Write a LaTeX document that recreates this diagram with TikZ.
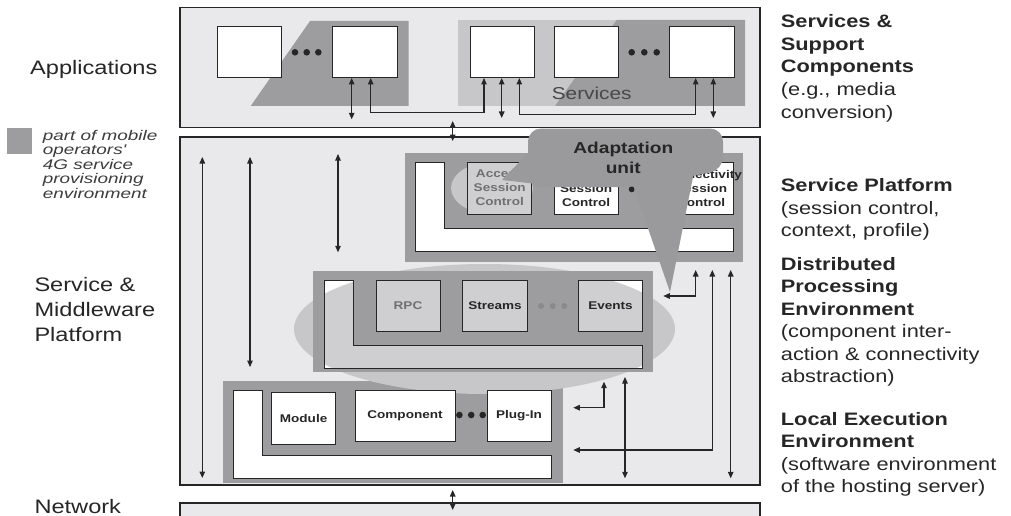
\documentclass[tikz,border=0pt]{standalone}
\usepackage{fontspec}
\setmainfont[FakeStretch=1.21]{Liberation Sans}
\newfontfamily\keyfont[FakeStretch=1.35]{Liberation Sans}
\usetikzlibrary{arrows.meta}

\definecolor{layer}{HTML}{E9E9EB}
\definecolor{panel}{HTML}{9D9D9F}
\definecolor{soft}{HTML}{C7C7C9}
\definecolor{haze}{HTML}{CFCFD1}
\definecolor{ink}{HTML}{262626}
\definecolor{dim}{HTML}{707072}
\definecolor{bubblegray}{HTML}{9A9A9C}
\definecolor{dotgray}{HTML}{8A8A8C}

\tikzset{
  layerbox/.style={draw=ink, line width=1.1pt, fill=layer, anchor=north west, inner sep=0pt, outer sep=0pt},
  slab/.style={fill=panel, anchor=north west, inner sep=0pt, outer sep=0pt},
  comp/.style={draw=ink, line width=1pt, fill=white, anchor=north west, inner sep=0pt, outer sep=0pt,
    align=center, text=ink, font=\fontsize{11.2}{14}\selectfont\bfseries},
  link/.style={draw=ink, line width=1.1pt,
    {Triangle[length=6.5pt,width=5.5pt]}-{Triangle[length=6.5pt,width=5.5pt]}},
  lbl/.style={anchor=base west, inner sep=0pt, text=ink},
  big/.style={lbl, font=\fontsize{19.5}{25}\selectfont},
  side/.style={lbl, font=\fontsize{18}{22.5}\selectfont},
  note/.style={lbl, text=ink!90, font=\keyfont\fontsize{14}{14.5}\selectfont\itshape},
}

\begin{document}
\begin{tikzpicture}[x=1pt,y=-1pt]
\useasboundingbox (0,0) rectangle (1011,516);

% ---------- layers ----------
\node[layerbox, minimum width=580, minimum height=120] (apps) at (180,7.5) {};
\node[layerbox, minimum width=580, minimum height=348] (mid) at (180,137) {};
\node[layerbox, minimum width=580, minimum height=40] (net) at (180,503) {};

% ---------- applications / services layer ----------
\fill[panel] (310,21) -- (408.7,21) -- (408.7,106) -- (250.7,106) -- cycle;
\fill[soft] (458,20) rectangle (745,106);
\fill[panel] (616.7,20) -- (745,20) -- (745,106) -- (555,106) -- cycle;
\node[anchor=base, inner sep=0pt, text=ink!85, font=\fontsize{17.2}{20}\selectfont] (svclabel) at (591.7,100) {Services};

\node[comp, minimum width=64, minimum height=51] (a1) at (217,27) {};
\node[comp, minimum width=65, minimum height=51] (a2) at (332,27) {};
\node[comp, minimum width=64, minimum height=51] (s1) at (470,27) {};
\node[comp, minimum width=64, minimum height=51] (s2) at (554,27) {};
\node[comp, minimum width=64.5, minimum height=51] (s3) at (669.5,27) {};
\foreach \x in {295,306.7,318.3,631.7,644.3,656.7} \fill[ink] (\x,52.3) circle (3.3pt);

\coordinate (a2d) at (351.7,119.3);
\coordinate (s1d) at (501.7,118);
\coordinate (s3d) at (713.3,118);
\draw[link] (a2.south -| a2d) -- (a2d);
\draw[link] (a2.south -| 370.7,0) -- (370.7,112.7) -- (484,112.7) -- (s1.south -| 484,0);
\draw[link] (s1.south -| s1d) -- (s1d);
\draw[link] (s1.south -| 519.3,0) -- (519.3,114.3) -- (695.7,114.3) -- (s3.south -| 695.7,0);
\draw[link] (s3.south -| s3d) -- (s3d);

% ---------- middle layer: vertical links on the left ----------
\coordinate (l1t) at (202.3,157);   \coordinate (l1b) at (202.3,478);
\coordinate (l2t) at (250,157);     \coordinate (l2b) at (250,367);
\coordinate (l3t) at (338,154);     \coordinate (l3b) at (338,252.3);
\draw[link] (l1t) -- (l1b);
\draw[link] (l2t) -- (l2b);
\draw[link] (l3t) -- (l3b);

% ---------- local execution environment slab ----------
\node[slab, minimum width=340.4, minimum height=101.7] (lee) at (222.6,381) {};

% ---------- distributed processing environment ----------
\fill[soft] (484.5,329) ellipse [x radius=190.5pt, y radius=65pt];
\node[slab, minimum width=340, minimum height=100.7] (dpe) at (313.3,271) {};
\fill[white] (324.3,280) -- (353.3,280) -- (353.3,345) -- (642.7,345) -- (642.7,368.3) -- (324.3,368.3) -- cycle;
\fill[white] (376,280) rectangle (440,331.7) (462.7,280) rectangle (527.3,331.7) (578.3,280) rectangle (642.7,331.7);
\begin{scope}
  \clip (484.5,329) ellipse [x radius=190.5pt, y radius=65pt];
  \fill[haze] (324.3,280) -- (353.3,280) -- (353.3,345) -- (642.7,345) -- (642.7,368.3) -- (324.3,368.3) -- cycle;
  \fill[haze] (376,280) rectangle (440,331.7) (462.7,280) rectangle (527.3,331.7) (578.3,280) rectangle (642.7,331.7);
\end{scope}
\draw[ink, line width=1pt] (324.3,280) -- (353.3,280) -- (353.3,345) -- (642.7,345) -- (642.7,368.3) -- (324.3,368.3) -- cycle;
\node[comp, fill=none, text=dim, minimum width=64, minimum height=51.7] (rpc) at (376,280) {RPC};
\node[comp, fill=none, minimum width=64.6, minimum height=51.7] (streams) at (462.7,280) {Streams};
\node[comp, fill=none, minimum width=64.4, minimum height=51.7] (events) at (578.3,280) {Events};
\foreach \x in {541,552.7,564.3} \fill[dotgray] (\x,306) circle (3pt);

% ---------- local execution environment contents ----------
\draw[fill=white, draw=ink, line width=1pt] (233.7,390) -- (262,390) -- (262,455.7) -- (551,455.7) -- (551,478.3) -- (233.7,478.3) -- cycle;
\node[comp, minimum width=63.6, minimum height=51.6] (module) at (271.8,392.7) {Module};
\node[comp, minimum width=100, minimum height=51] (component) at (355,390) {Component};
\node[comp, minimum width=64, minimum height=51] (plugin) at (487,390) {Plug-In};
\foreach \x in {459.4,471.2,482.7} \fill[ink] (\x,415) circle (3.3pt);

% ---------- service platform ----------
\node[slab, minimum width=338.3, minimum height=108.4] (sp) at (405,153.3) {};
\draw[fill=white, draw=ink, line width=1pt] (415.7,162.3) -- (444,162.3) -- (444,228.3) -- (733.3,228.3) -- (733.3,251.7) -- (415.7,251.7) -- cycle;
\fill[soft] (492,188) ellipse [x radius=41pt, y radius=26pt];
\node[comp, fill=haze, text=dim, minimum width=64, minimum height=52] (acc) at (467.7,162) {Access\\Session\\Control};
\node[comp, minimum width=64.3, minimum height=52] (sess) at (554,162) {\strut\\Session\\Control};
\node[comp, minimum width=64.3, minimum height=52] (conn) at (669,162) {\makebox[0pt]{Connectivity}\\Session\\Control};
\foreach \x in {631.7,644,656.5} \fill[ink] (\x,189.3) circle (3pt);

% ---------- links on the right ----------
\coordinate (r1t) at (695.7,270);  \coordinate (r1e) at (663.3,296);
\coordinate (r2t) at (712.3,270);  \coordinate (r2e) at (573.3,450);
\coordinate (r3t) at (730.7,270);  \coordinate (r3b) at (730.7,478.3);
\coordinate (r4t) at (604,381.7);  \coordinate (r4e) at (573.3,407.7);
\coordinate (r5t) at (625,377);    \coordinate (r5b) at (625,478.3);
\draw[link] (r1t) |- (r1e);
\draw[link] (r2t) |- (r2e);
\draw[link] (r3t) -- (r3b);
\draw[link] (r4t) |- (r4e);
\draw[link] (r5t) -- (r5b);

% ---------- layer-to-layer links ----------
\coordinate (up1) at (452.7,121);  \coordinate (dn1) at (452.7,141);
\coordinate (up2) at (452.7,490);  \coordinate (dn2) at (452.7,510);
\draw[link] (up1) -- (dn1);
\draw[link] (up2) -- (dn2);

% ---------- adaptation unit callout ----------
\fill[bubblegray, rounded corners=13pt] (528,128.5) -- (723,128.5) -- (723,170) -- (634,187) -- (528,187) -- cycle;
\fill[bubblegray] (632,182) -- (670,292) -- (694,172) -- cycle;
\fill[bubblegray] (531,150) -- (502,180) -- (546,185) -- cycle;
\node[align=center, inner sep=0pt, text=ink, font=\fontsize{15.8}{20}\selectfont\bfseries] (adapt) at (623.3,158) {Adaptation\\unit};

% ---------- left column ----------
\node[big] (lapps) at (30,75) {Applications};
\foreach \t [count=\i] in {Service \&,Middleware,Platform}
  \node[big] (lmid-\i) at (34.3,{291+25*(\i-1)}) {\t};
\node[big] (lnet) at (34.3,513) {Network};

\node[fill=panel, anchor=north west, inner sep=0pt, minimum width=25, minimum height=26] (key) at (7,128) {};
\foreach \t [count=\i] in {part of mobile,operators',4G service,provisioning,environment}
  \node[note] (keytxt-\i) at (42.7,{140+14.5*(\i-1)}) {\t};

% ---------- right column ----------
\foreach \t [count=\i] in {{\bfseries Services \&},{\bfseries Support},{\bfseries Components},{(e.g., media},{conversion)}}
  \node[side] (rsvc-\i) at (780.7,{28+22.5*(\i-1)}) {\t};
\foreach \t [count=\i] in {{\bfseries Service Platform},{(session control,},{context, profile)}}
  \node[side] (rsp-\i) at (780.7,{191.5+22.5*(\i-1)}) {\t};
\foreach \t [count=\i] in {{\bfseries Distributed},{\bfseries Processing},{\bfseries Environment},{(component inter-},{action \& connectivity},{abstraction)}}
  \node[side] (rdpe-\i) at (780.7,{270+22.5*(\i-1)}) {\t};
\foreach \t [count=\i] in {{\bfseries Local Execution},{\bfseries Environment},{(software environment},{of the hosting server)}}
  \node[side] (rlee-\i) at (780.7,{425+22.5*(\i-1)}) {\t};

\end{tikzpicture}
\end{document}
